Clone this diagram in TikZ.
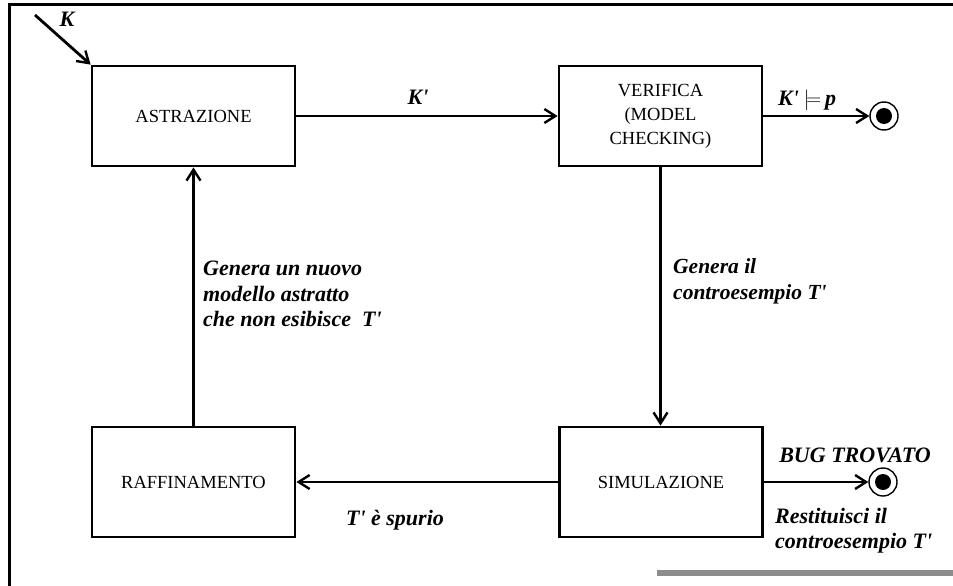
\documentclass[tikz,border=0pt]{standalone}
\usepackage{fontspec}
\setmainfont{Liberation Serif}[Ligatures=TeXOff]
\usetikzlibrary{arrows.meta}
\begin{document}
\begin{tikzpicture}[x=1pt,y=-1pt,
  blockbox/.style={draw,line width=2.8pt,minimum width=203pt,minimum height=100pt,
    inner sep=0pt,align=center,font=\fontsize{18.5}{24}\selectfont},
  flow/.style={line width=2.8pt,-{Straight Barb[length=11pt,width=14pt,line width=2.4pt]}},
  lbl/.style={font=\fontsize{22}{25.5}\selectfont\bfseries\itshape,inner sep=0pt},
  endpt/.style={circle,draw,line width=1.4pt,minimum size=28pt,inner sep=0pt},
  dot/.style={circle,fill,minimum size=16pt,inner sep=0pt}]
\useasboundingbox (0,0) rectangle (953,586);
% outer frame (top and left edges only)
\draw[line width=3pt] (9,586) -- (9,5) -- (953,5);
% gray strip at the bottom
\fill[gray!90] (657,570) rectangle (953,576);

% blocks
\node[blockbox] (astr) at (193.5,116) {ASTRAZIONE};
\node[blockbox] (verif) at (660.5,116) {VERIFICA\\(MODEL\\CHECKING)};
\node[blockbox,minimum height=110pt] (sim) at (661,482) {SIMULAZIONE};
\node[blockbox,minimum height=110pt] (raff) at (193.5,482) {RAFFINAMENTO};

% end states
\node[endpt] (ok) at (884,116) {};
\node[dot] at (ok.center) {};
\node[endpt] (bug) at (883,482) {};
\node[dot] at (bug.center) {};

% input
\coordinate (kin) at (35,15);
\draw[flow] (kin) -- (astr.north west);
\node[lbl,anchor=base] (klab) at (67,27) {K};

% connectors
\draw[flow] (astr.east) -- (verif.west);
\node[lbl,anchor=base] (kp) at (418,104) {K'};
\draw[flow] (verif.east) -- (ok.west);
\node[lbl,anchor=base west] (sat) at (778,105) {K'\hspace{5pt}$\models$\hspace{4pt}p};

\draw[flow] (verif.south) -- (verif.south |- sim.north);
\node[lbl,anchor=north west,align=left,font=\fontsize{21.5}{26}\selectfont\bfseries\itshape] (gen) at (673,258) {Genera il\\controesempio T'};

\draw[flow] (sim.west) -- (raff.east);
\node[lbl,anchor=base] (spur) at (395,525) {T' è spurio};

\draw[flow] (raff.north) -- (raff.north |- astr.south);
\node[lbl,anchor=north west,align=left] (nuovo) at (203,261) {Genera un nuovo\\modello astratto\\che non esibisce\ \ T'};

\draw[flow] (sim.east) -- (bug.west);
\node[lbl,anchor=base] (bugt) at (855,462) {BUG TROVATO};
\node[lbl,anchor=north west,align=left,font=\fontsize{22}{25}\selectfont\bfseries\itshape] (rest) at (775,508) {Restituisci il\\controesempio T'};
\end{tikzpicture}
\end{document}
